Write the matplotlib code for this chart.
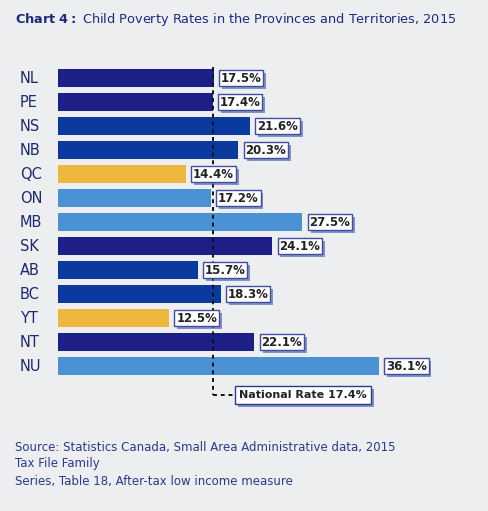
import matplotlib
matplotlib.use("Agg")
import matplotlib.pyplot as plt
from matplotlib import patheffects as pe
from matplotlib.transforms import blended_transform_factory

provinces = ["NL","PE","NS","NB","QC","ON","MB","SK","AB","BC","YT","NT","NU"]
rates = [17.5,17.4,21.6,20.3,14.4,17.2,27.5,24.1,15.7,18.3,12.5,22.1,36.1]
groups = ["d","d","m","m","g","l","l","d","m","m","g","d","l"]
national = 17.4
cmap = {"d":"#1b1f86","m":"#0b3a9f","l":"#4a92d3","g":"#ecb73c"}
bg = "#edeef0"

fig = plt.figure(figsize=(4.88,5.11), dpi=100, facecolor=bg)
W,H = 488,511
ax = fig.add_axes([58/W, 1-410/H, 400/W, 344/H])
ax.set_facecolor(bg)
ypos = list(range(len(provinces)))
ax.barh(ypos, rates, height=0.72, color=[cmap[g] for g in groups])
ax.set_xlim(0,45)
ax.set_ylim(13.83,-0.5)
for s in ax.spines.values(): s.set_visible(False)
ax.set_xticks([])
ax.set_yticks([])
tr = blended_transform_factory(fig.transFigure, ax.transData)
for y,p in zip(ypos,provinces):
    ax.text(20/W, y, p, transform=tr, ha="left", va="center", fontsize=10.5, color="#1c2a6e")
ax.plot([national,national],[-0.45,13.2], ls=(0,(2,2)), color="#111", lw=1.4)
ax.plot([national,national+2.5],[13.2,13.2], ls=(0,(2,2)), color="#111", lw=1.4)
shadow = [pe.withSimplePatchShadow(offset=(2,-2), shadow_rgbFace="#3b55a8", alpha=0.6)]
for y,v in zip(ypos,rates):
    t = ax.text(v+0.8, y, f"{v}%", va="center", ha="left", fontsize=8.5, fontweight="bold", color="#222",
            bbox=dict(boxstyle="square,pad=0.15", fc="white", ec="#3b4ea0", lw=1))
    t.get_bbox_patch().set_path_effects(shadow)
t = ax.text(national+3.0, 13.2, f"National Rate {national}%", va="center", ha="left", fontsize=8, fontweight="bold", color="#222",
        bbox=dict(boxstyle="square,pad=0.35", fc="white", ec="#2a3a8c", lw=1))
t.get_bbox_patch().set_path_effects(shadow)

fig.text(15/W, 1-20/H, r"$\bf{Chart\ 4:}$ Child Poverty Rates in the Provinces and Territories, 2015",
         fontsize=9.3, color="#1c2a80", va="center")
for i,line in enumerate(["Source: Statistics Canada, Small Area Administrative data, 2015",
                         "Tax File Family","Series, Table 18, After-tax low income measure"]):
    fig.text(15/W, 1-(447+17*i)/H, line, fontsize=8.5, color="#2a3a8c", va="center")
fig.savefig("out.png", dpi=100, facecolor=bg)
